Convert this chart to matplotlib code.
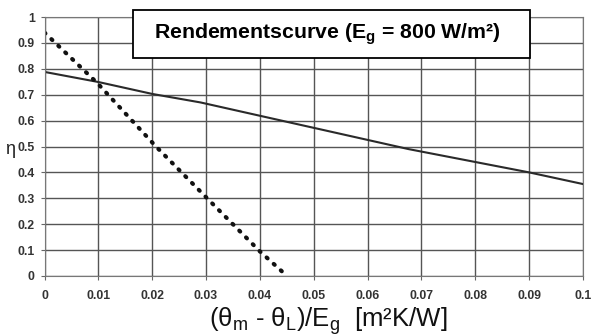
import matplotlib
matplotlib.use("Agg")
import matplotlib.pyplot as plt
from matplotlib.patches import Rectangle

# data
x_solid = [0.0, 0.01, 0.02, 0.029, 0.044, 0.0676, 0.09, 0.1]
y_solid = [0.788, 0.749, 0.703, 0.67, 0.60, 0.49, 0.40, 0.355]
x_dot = [0.0, 0.0098, 0.0207, 0.0302, 0.04, 0.0444]
y_dot = [0.94, 0.745, 0.50, 0.30, 0.095, 0.012]
xticks = [0, 0.01, 0.02, 0.03, 0.04, 0.05, 0.06, 0.07, 0.08, 0.09, 0.1]
xticklabels = ["0", "0.01", "0.02", "0.03", "0.04", "0.05", "0.06", "0.07", "0.08", "0.09", "0.1"]
yticks = [0, 0.1, 0.2, 0.3, 0.4, 0.5, 0.6, 0.7, 0.8, 0.9, 1]
yticklabels = ["0", "0.1", "0.2", "0.3", "0.4", "0.5", "0.6", "0.7", "0.8", "0.9", "1"]

plt.rcParams['font.family'] = ['Liberation Sans', 'DejaVu Sans']
plt.rcParams['mathtext.fontset'] = 'custom'
plt.rcParams['mathtext.rm'] = 'Liberation Sans'
plt.rcParams['mathtext.bf'] = 'Liberation Sans:bold'

fig = plt.figure(figsize=(5.91, 3.36), dpi=100)
ax = fig.add_axes([44.5/591, 1-276/336, (583-44.5)/591, (276-17)/336])

ax.plot(x_solid, y_solid, color='#2a2a2a', lw=1.5)
ax.plot(x_dot, y_dot, color='#111111', lw=3.0, linestyle=(0, (0.3, 2.0)), dash_capstyle='round')

ax.set_xlim(0, 0.1)
ax.set_ylim(0, 1)
ax.set_xticks(xticks)
ax.set_xticklabels(xticklabels)
ax.set_yticks(yticks)
ax.set_yticklabels(yticklabels)
ax.grid(True, color='#555555', lw=1.0)
ax.set_axisbelow(True)
for s in ax.spines.values():
    s.set_color('#777777')
    s.set_linewidth(0.8)
ax.tick_params(axis='both', length=3, color='#666666', labelsize=8.8, labelcolor='#333333')
ax.tick_params(axis='x', pad=7)
ax.tick_params(axis='y', pad=4)
for lab in ax.get_xticklabels() + ax.get_yticklabels():
    lab.set_fontweight('bold')

fig.text(328/591, 1-321/336, r"(θ$\mathregular{_m}$ - θ$\mathregular{_L}$)/E$\mathregular{_g}$  [m²K/W]",
         ha='center', va='center', fontsize=18.5, color='#111111')
fig.text(10/591, 1-150/336, "η", ha='center', va='center', fontsize=13, color='#222222')

fig.patches.append(Rectangle((133/591, 1-58/336), (530-133)/591, (58-10)/336,
                             transform=fig.transFigure, facecolor='white', edgecolor='black', lw=1.3, zorder=2))
t = fig.text(327/591, 1-34/336,
             r"Rendementscurve (E$\mathbf{_g}$ = 800 W/m²)",
             ha='center', va='center', fontsize=15.3, fontweight='bold', color='black')
t.set_zorder(3)

fig.savefig("out.png", dpi=100)
